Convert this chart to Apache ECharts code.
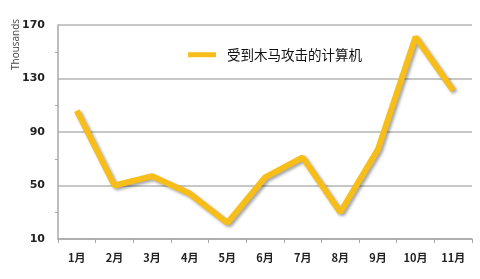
<!DOCTYPE html>
<html><head><meta charset="utf-8">
<script src="https://cdn.jsdelivr.net/npm/echarts@6/dist/echarts.min.js"></script>
<style>html,body{margin:0;padding:0;background:#fff}#c{width:480px;height:279px}</style>
</head><body><div id="c"></div>
<script>
const categories = ['1月','2月','3月','4月','5月','6月','7月','8月','9月','10月','11月'];
const seriesName = '受到木马攻击的计算机';
const values = [106, 50, 57, 44, 22, 56, 71, 30, 77, 161, 121];
const yTickLabels = ['10','50','90','130','170'];
const yMin = 10, yMax = 170, yStep = 40;

const chart = echarts.init(document.getElementById('c'));
chart.setOption({
  animation: false,
  backgroundColor: '#fff',
  grid: {left: 58, right: 8, top: 25, bottom: 40},
  legend: {
    data: [seriesName], left: 183, top: 43,
    icon: 'rect', itemWidth: 28, itemHeight: 5, itemGap: 10,
    textStyle: {fontFamily: 'Noto Sans CJK SC', fontSize: 13.5, color: '#111', padding: [0, 0, 0, 6]}
  },
  graphic: [{
    type: 'text', x: 11, y: 70, rotation: Math.PI/2, originX: 0, originY: 0,
    style: {text: 'Thousands', fontFamily: 'Open Sans', fontSize: 10, fill: '#444', align: 'left', verticalAlign: 'top'}
  }],
  xAxis: {
    type: 'category', data: categories, boundaryGap: true,
    axisLine: {lineStyle: {color: '#a8a8a8', width: 1.5}},
    axisTick: {show: true, length: 4, lineStyle: {color: '#a8a8a8'}},
    axisLabel: {margin: 13, fontFamily: 'Noto Sans CJK SC', fontWeight: 'bold', fontSize: 11, color: '#222'}
  },
  yAxis: [{
    type: 'value', min: 0, max: yMax - yMin, interval: yStep,
    axisLine: {show: true, lineStyle: {color: '#a8a8a8', width: 1.5}},
    axisTick: {show: false},
    minorTick: {show: true, splitNumber: 2, length: 3, lineStyle: {color: '#a8a8a8'}},
    splitLine: {show: true, lineStyle: {color: '#b4b4b4', width: 1.5}},
    axisLabel: {margin: 13, fontFamily: 'Verdana, DejaVu Sans', fontWeight: 'bold', fontSize: 11, color: '#222',
      formatter: v => yTickLabels[Math.round(v / yStep)]}
  }, {
    type: 'value', min: yMin, max: yMax, show: false
  }],
  series: [{
    name: seriesName, type: 'line', yAxisIndex: 1, data: values,
    showSymbol: false, symbol: 'none',
    itemStyle: {color: '#F7BE1A'},
    lineStyle: {color: '#F7BE1A', width: 6, shadowColor: 'rgba(0,0,0,0.35)', shadowBlur: 3, shadowOffsetX: 2, shadowOffsetY: 2}
  }]
});
</script></body></html>
